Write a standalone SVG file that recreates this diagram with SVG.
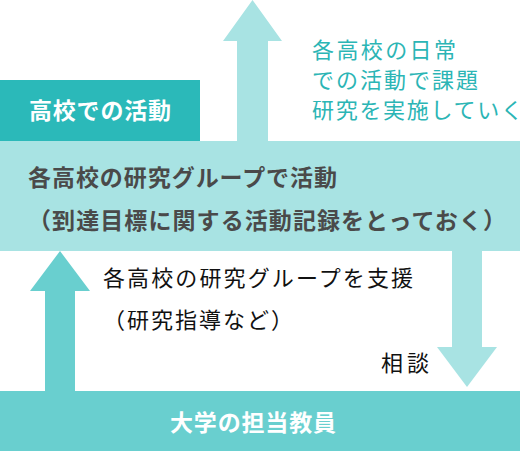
<svg xmlns="http://www.w3.org/2000/svg" width="528" height="451" viewBox="0 0 528 451">
<style>
  text { font-family: "Noto Sans CJK JP", "Noto Sans", sans-serif; }
  .w { fill: #ffffff; font-weight: bold; font-size: 23px; }
  .g { fill: #4a4a4a; font-weight: bold; font-size: 23px; }
  .t { fill: #2bb5b5; font-size: 22px; }
  .k { fill: #111111; font-size: 22px; }
  .light { fill: #a8e3e3; }
  .mid { fill: #69cfcf; }
</style>
<rect width="528" height="451" fill="#ffffff"/>
<g id="connectors">
  <polygon id="arrow-up-top" class="light" points="252.5,0 282,41 268,41 268,142 237,142 237,41 223,41"/>
  <polygon id="arrow-up-left" class="mid" points="60,251 90,291 75,291 75,392 45,392 45,291 30,291"/>
  <polygon id="arrow-down-right" class="light" points="452,250 482,250 482,347 497,347 467,387 437,347 452,347"/>
</g>
<g id="node-research-group">
  <rect x="0" y="141" width="520" height="110" class="light"/>
  <text class="g" x="28" y="186" textLength="309" lengthAdjust="spacing">各高校の研究グループで活動</text>
  <text class="g" x="28" y="229" textLength="478" lengthAdjust="spacing">（到達目標に関する活動記録をとっておく）</text>
</g>
<g id="node-school-activity">
  <rect x="0" y="80" width="200" height="61" fill="#2bb9b9"/>
  <text class="w" x="29" y="119" textLength="142" lengthAdjust="spacing">高校での活動</text>
</g>
<g id="node-university">
  <rect x="0" y="391" width="520" height="60" class="mid"/>
  <text class="w" x="170" y="431" textLength="166" lengthAdjust="spacing">大学の担当教員</text>
</g>
<g id="labels">
  <text class="t" x="312" y="58" textLength="144" lengthAdjust="spacing">各高校の日常</text>
  <text class="t" x="312" y="88" textLength="166" lengthAdjust="spacing">での活動で課題</text>
  <text class="t" x="312" y="118" textLength="211" lengthAdjust="spacing">研究を実施していく</text>
  <text class="k" x="103" y="286" textLength="310" lengthAdjust="spacing">各高校の研究グループを支援</text>
  <text class="k" x="103" y="328" textLength="190" lengthAdjust="spacing">（研究指導など）</text>
  <text class="k" x="381" y="371" textLength="48" lengthAdjust="spacing">相談</text>
</g>
</svg>
